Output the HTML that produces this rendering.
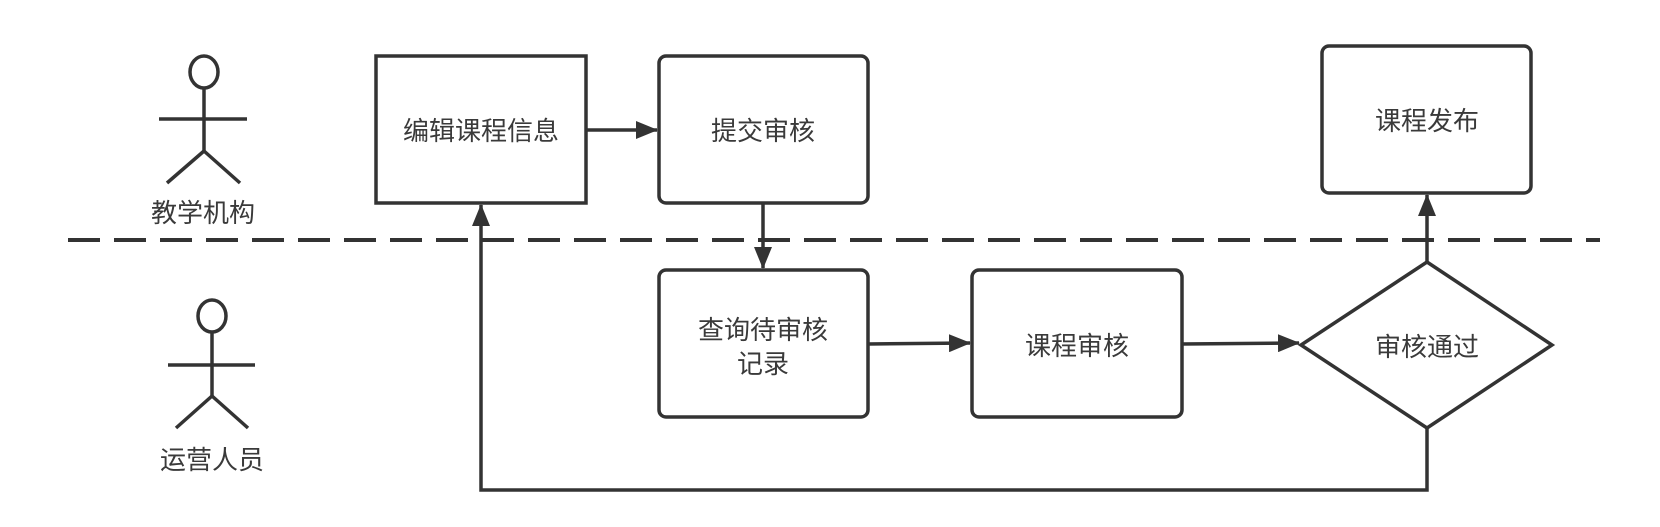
<!DOCTYPE html>
<html><head><meta charset="utf-8"><style>
html,body{margin:0;padding:0;background:#fff;}
svg text{font-family:"Liberation Sans","Noto Sans CJK SC",sans-serif;font-size:26px;fill:#3a3a3a;text-anchor:middle;dominant-baseline:central;}
</style></head><body>
<svg width="1660" height="522" viewBox="0 0 1660 522" xmlns="http://www.w3.org/2000/svg">
<defs><marker id="a" markerWidth="22" markerHeight="18" refX="21" refY="9" orient="auto" markerUnits="userSpaceOnUse"><path d="M0,0 L22,9 L0,18 Z" fill="#333"/></marker></defs>
<g stroke="#333" stroke-width="3.5" fill="none">
<ellipse cx="204" cy="72" rx="14" ry="16"/>
<line x1="204" y1="88" x2="204" y2="151"/>
<line x1="159" y1="119" x2="247" y2="119"/>
<line x1="167" y1="183" x2="204" y2="151"/><line x1="240" y1="183" x2="204" y2="151"/>
<ellipse cx="212" cy="316" rx="14" ry="16"/>
<line x1="212" y1="332" x2="212" y2="396"/>
<line x1="168" y1="365" x2="255" y2="365"/>
<line x1="176" y1="428" x2="212" y2="396"/><line x1="248" y1="428" x2="212" y2="396"/>
<line x1="68" y1="240" x2="1600" y2="240" stroke-width="4" stroke-dasharray="32,14"/>
<rect x="376" y="56" width="210" height="147"/>
<rect x="659" y="56" width="209" height="147" rx="7"/>
<rect x="659" y="270" width="209" height="147" rx="7"/>
<rect x="972" y="270" width="210" height="147" rx="7"/>
<rect x="1322" y="46" width="209" height="147" rx="7"/>
<polygon points="1427,262 1552,345 1427,428 1301,345"/>
<line x1="586" y1="130" x2="657" y2="130" marker-end="url(#a)"/>
<line x1="763" y1="203" x2="763" y2="268" marker-end="url(#a)"/>
<line x1="868" y1="344" x2="970" y2="343" marker-end="url(#a)"/>
<line x1="1182" y1="344" x2="1299" y2="343" marker-end="url(#a)"/>
<line x1="1427" y1="262" x2="1427" y2="195" marker-end="url(#a)"/>
<polyline points="1427,428 1427,490 481,490 481,205" marker-end="url(#a)"/>
</g>
<text x="203" y="213">教学机构</text>
<text x="212" y="460">运营人员</text>
<text x="481" y="131">编辑课程信息</text>
<text x="763" y="131">提交审核</text>
<text x="763" y="330">查询待审核</text>
<text x="763" y="364">记录</text>
<text x="1077" y="346">课程审核</text>
<text x="1427" y="121">课程发布</text>
<text x="1427" y="347">审核通过</text>
</svg>
</body></html>
